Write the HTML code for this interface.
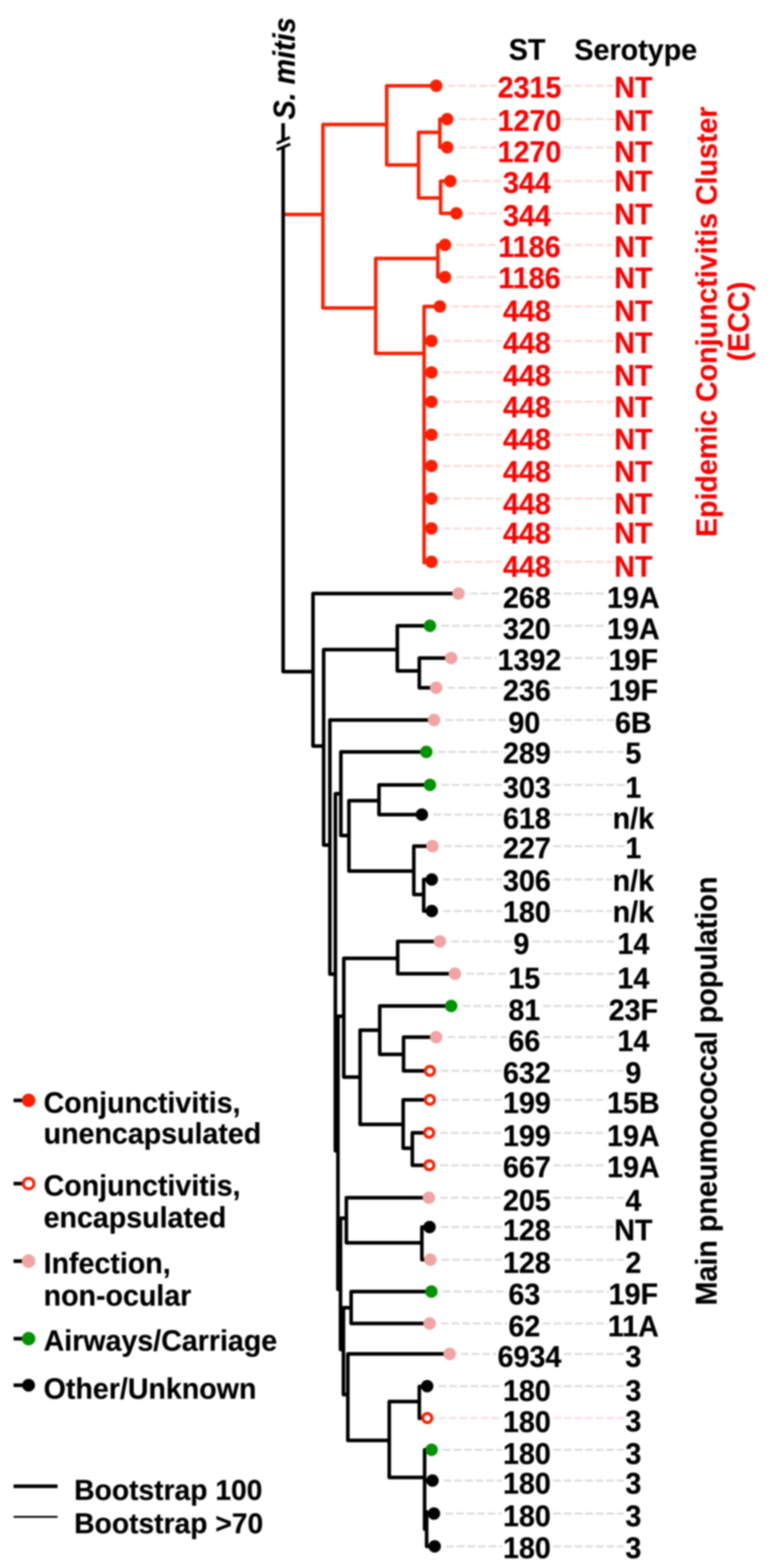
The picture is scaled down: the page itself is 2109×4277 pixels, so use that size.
<!DOCTYPE html>
<html lang="en"><head><meta charset="utf-8"><title>Phylogenetic tree</title>
<style>
html,body{margin:0;padding:0;background:#fff;}
body{width:2109px;height:4277px;overflow:hidden;}
svg{display:block;filter:blur(2px);}
text{font-family:"Liberation Sans",Arial,Helvetica,sans-serif;font-weight:bold;font-size:78.3px;stroke-width:0.5px;stroke-linejoin:round;paint-order:stroke fill;}
.c{text-anchor:middle;}
.r{fill:#ff0000;stroke:#ff0000;}
.k{fill:#000;stroke:#000;}
.l,.s{font-size:78px;}
</style></head><body>
<svg width="2109" height="4277" viewBox="0 0 2109 4277" role="img" aria-label="Phylogenetic tree of pneumococcal isolates with ST and serotype">
<rect width="2109" height="4277" fill="#fff"/>
<g fill="none" stroke-width="5.5" stroke-dasharray="21 8">
<path stroke="#ffd6d6" d="M1221 234H1354.5"/>
<path stroke="#ffd6d6" d="M1538.5 234H1674"/>
<path stroke="#ffd6d6" d="M1251 325H1354.5"/>
<path stroke="#ffd6d6" d="M1538.5 325H1674"/>
<path stroke="#ffd6d6" d="M1251 402H1354.5"/>
<path stroke="#ffd6d6" d="M1538.5 402H1674"/>
<path stroke="#ffd6d6" d="M1259.5 494H1369.5"/>
<path stroke="#ffd6d6" d="M1509.5 494H1674"/>
<path stroke="#ffd6d6" d="M1276 582H1369.5"/>
<path stroke="#ffd6d6" d="M1509.5 582H1674"/>
<path stroke="#ffd6d6" d="M1245 668H1354.5"/>
<path stroke="#ffd6d6" d="M1538.5 668H1674"/>
<path stroke="#ffd6d6" d="M1245 756H1354.5"/>
<path stroke="#ffd6d6" d="M1538.5 756H1674"/>
<path stroke="#ffd6d6" d="M1231 836H1369.5"/>
<path stroke="#ffd6d6" d="M1509.5 836H1674"/>
<path stroke="#ffd6d6" d="M1208 930H1369.5"/>
<path stroke="#ffd6d6" d="M1509.5 930H1674"/>
<path stroke="#ffd6d6" d="M1208 1016H1369.5"/>
<path stroke="#ffd6d6" d="M1509.5 1016H1674"/>
<path stroke="#ffd6d6" d="M1208 1096H1369.5"/>
<path stroke="#ffd6d6" d="M1509.5 1096H1674"/>
<path stroke="#ffd6d6" d="M1208 1186H1369.5"/>
<path stroke="#ffd6d6" d="M1509.5 1186H1674"/>
<path stroke="#ffd6d6" d="M1208 1271H1369.5"/>
<path stroke="#ffd6d6" d="M1509.5 1271H1674"/>
<path stroke="#ffd6d6" d="M1208 1360H1369.5"/>
<path stroke="#ffd6d6" d="M1509.5 1360H1674"/>
<path stroke="#ffd6d6" d="M1208 1441.5H1369.5"/>
<path stroke="#ffd6d6" d="M1509.5 1441.5H1674"/>
<path stroke="#ffd6d6" d="M1208 1532.5H1369.5"/>
<path stroke="#ffd6d6" d="M1509.5 1532.5H1674"/>
<path stroke="#dcdcdc" d="M1282 1619H1369.5"/>
<path stroke="#dcdcdc" d="M1509.5 1619H1656"/>
<path stroke="#dcdcdc" d="M1204 1707H1369.5"/>
<path stroke="#dcdcdc" d="M1509.5 1707H1656"/>
<path stroke="#dcdcdc" d="M1262 1795H1354.5"/>
<path stroke="#dcdcdc" d="M1538.5 1795H1660"/>
<path stroke="#dcdcdc" d="M1221 1876H1369.5"/>
<path stroke="#dcdcdc" d="M1509.5 1876H1660"/>
<path stroke="#dcdcdc" d="M1215 1964H1383.5"/>
<path stroke="#dcdcdc" d="M1481.5 1964H1676"/>
<path stroke="#dcdcdc" d="M1194 2051H1369.5"/>
<path stroke="#dcdcdc" d="M1509.5 2051H1702"/>
<path stroke="#dcdcdc" d="M1204 2141H1369.5"/>
<path stroke="#dcdcdc" d="M1509.5 2141H1708"/>
<path stroke="#dcdcdc" d="M1182 2222H1369.5"/>
<path stroke="#dcdcdc" d="M1509.5 2222H1670"/>
<path stroke="#dcdcdc" d="M1211 2308H1369.5"/>
<path stroke="#dcdcdc" d="M1509.5 2308H1708"/>
<path stroke="#dcdcdc" d="M1209 2399H1369.5"/>
<path stroke="#dcdcdc" d="M1509.5 2399H1670"/>
<path stroke="#dcdcdc" d="M1209 2485H1369.5"/>
<path stroke="#dcdcdc" d="M1509.5 2485H1670"/>
<path stroke="#dcdcdc" d="M1231 2568H1396.5"/>
<path stroke="#dcdcdc" d="M1452.5 2568H1683"/>
<path stroke="#dcdcdc" d="M1272 2656H1383.5"/>
<path stroke="#dcdcdc" d="M1481.5 2656H1683"/>
<path stroke="#dcdcdc" d="M1262 2744H1383.5"/>
<path stroke="#dcdcdc" d="M1481.5 2744H1659"/>
<path stroke="#dcdcdc" d="M1221 2829H1383.5"/>
<path stroke="#dcdcdc" d="M1481.5 2829H1683"/>
<path stroke="#dcdcdc" d="M1203 2921H1369.5"/>
<path stroke="#dcdcdc" d="M1509.5 2921H1702"/>
<path stroke="#dcdcdc" d="M1203 3000H1369.5"/>
<path stroke="#dcdcdc" d="M1509.5 3000H1656"/>
<path stroke="#dcdcdc" d="M1201 3090H1369.5"/>
<path stroke="#dcdcdc" d="M1509.5 3090H1656"/>
<path stroke="#dcdcdc" d="M1201.5 3178.5H1369.5"/>
<path stroke="#dcdcdc" d="M1509.5 3178.5H1656"/>
<path stroke="#dcdcdc" d="M1201 3267H1369.5"/>
<path stroke="#dcdcdc" d="M1509.5 3267H1702"/>
<path stroke="#dcdcdc" d="M1203 3347H1369.5"/>
<path stroke="#dcdcdc" d="M1509.5 3347H1674"/>
<path stroke="#dcdcdc" d="M1205 3436H1369.5"/>
<path stroke="#dcdcdc" d="M1509.5 3436H1702"/>
<path stroke="#dcdcdc" d="M1208 3523H1383.5"/>
<path stroke="#dcdcdc" d="M1481.5 3523H1660"/>
<path stroke="#dcdcdc" d="M1203 3610H1383.5"/>
<path stroke="#dcdcdc" d="M1481.5 3610H1658"/>
<path stroke="#dcdcdc" d="M1258 3693H1354.5"/>
<path stroke="#dcdcdc" d="M1538.5 3693H1702"/>
<path stroke="#dcdcdc" d="M1196.5 3781H1369.5"/>
<path stroke="#dcdcdc" d="M1509.5 3781H1702"/>
<path stroke="#fbdcee" d="M1196 3868H1369.5"/>
<path stroke="#fbdcee" d="M1509.5 3868H1702"/>
<path stroke="#dcdcdc" d="M1208.5 3954.5H1369.5"/>
<path stroke="#dcdcdc" d="M1509.5 3954.5H1702"/>
<path stroke="#dcdcdc" d="M1211 4038.5H1369.5"/>
<path stroke="#dcdcdc" d="M1509.5 4038.5H1702"/>
<path stroke="#dcdcdc" d="M1215 4128.5H1369.5"/>
<path stroke="#dcdcdc" d="M1509.5 4128.5H1702"/>
<path stroke="#dcdcdc" d="M1217 4218H1369.5"/>
<path stroke="#dcdcdc" d="M1509.5 4218H1702"/>
</g>
<path fill="none" stroke="#000000" stroke-width="9.8" stroke-linecap="round" stroke-linejoin="round" d="M772.5 1832L854 1832M854 1619L854 2035M854 1619L1251 1619M854 2035L883 2035M883 1772L883 2305M883 1772L1084 1772M1084 1707L1084 1830M1084 1707L1173 1707M1084 1830L1144 1830M1144 1795L1144 1876M1144 1795L1231 1795M1144 1876L1190 1876M883 2305L900 2305M900 1964L900 2657M900 1964L1184 1964M900 2657L915 2657M915 2165L915 3139M915 2165L930 2165M930 2051L930 2279M930 2051L1163 2051M930 2279L952 2279M952 2184L952 2376M952 2184L1034 2184M1034 2141L1034 2222M1034 2141L1173 2141M1034 2222L1151 2222M952 2376L1129 2376M1129 2308L1129 2440M1129 2308L1180 2308M1129 2440L1156 2440M1156 2399L1156 2485M1156 2399L1178 2399M1156 2485L1178 2485M915 3139L922 3139M922 2772L922 3517M922 2772L938 2772M938 2614L938 2938M938 2614L1085 2614M1085 2568L1085 2656M1085 2568L1200 2568M1085 2656L1241 2656M938 2938L982.5 2938M982.5 2810L982.5 3067M982.5 2810L1036 2810M1036 2744L1036 2876M1036 2744L1231 2744M1036 2876L1101 2876M1101 2829L1101 2921M1101 2829L1190 2829M1101 2921L1172 2921M982.5 3067L1100 3067M1100 3000L1100 3132M1100 3000L1172 3000M1100 3132L1125 3132M1125 3090L1125 3178.5M1125 3090L1170 3090M1125 3178.5L1170.5 3178.5M922 3517L929 3517M929 3323L929 3681M929 3323L945 3323M945 3267L945 3390M945 3267L1170 3267M945 3390L1151 3390M1151 3347L1151 3436M1151 3347L1172 3347M1151 3436L1174 3436M929 3681L937 3681M937 3567L937 3804M937 3567L958 3567M958 3523L958 3610M958 3523L1177 3523M958 3610L1172 3610M937 3804L949 3804M949 3693L949 3929M949 3693L1227 3693M949 3929L1062 3929M1062 3823L1062 4030M1062 3823L1144 3823M1144 3782L1144 3869M1144 3782L1165.5 3782M1144 3868L1165 3868M1062 4030L1158.5 4030M1158.5 3956L1158.5 4171M1158.5 3954.5L1177.5 3954.5M1158.5 4038.5L1179 4038.5M1164 4124L1164 4218M1164 4128.5L1183 4128.5M1164 4218L1185 4218"/>
<path fill="none" stroke="#ff1e00" stroke-width="9.6" stroke-linecap="round" stroke-linejoin="round" d="M777 585L881 585M881 339.5L881 840M881 339.5L1055 339.5M1055 234L1055 450M1055 234L1190 234M1055 450L1142 450M1142 361L1142 540M1142 361L1200 361M1200 325L1200 402M1200 325L1220 325M1200 402L1220 402M1142 540L1202 540M1202 494L1202 582M1202 494L1228.5 494M1202 582L1245 582M881 840L1025 840M1025 705L1025 964M1025 705L1194.5 705M1194.5 668L1194.5 756M1194.5 668L1214 668M1194.5 756L1214 756M1025 964L1157 964M1157 836L1157 1535M1157 836L1200 836M1157 930L1177 930M1157 1016L1177 1016M1157 1096L1177 1096M1157 1186L1177 1186M1157 1271L1177 1271M1157 1360L1177 1360M1157 1441.5L1177 1441.5M1157 1532.5L1177 1532.5"/>
<path fill="none" stroke="#000" stroke-width="9.8" d="M772.5 336V384M772.5 399V1832"/>
<path fill="none" stroke="#000" stroke-width="7.5" d="M755 391L791 374.5M755 408.5L792 393"/>
<circle cx="1190" cy="234" r="17" fill="#ff1e00"/>
<circle cx="1220" cy="325" r="17" fill="#ff1e00"/>
<circle cx="1220" cy="402" r="17" fill="#ff1e00"/>
<circle cx="1228.5" cy="494" r="17" fill="#ff1e00"/>
<circle cx="1245" cy="582" r="17" fill="#ff1e00"/>
<circle cx="1214" cy="668" r="17" fill="#ff1e00"/>
<circle cx="1214" cy="756" r="17" fill="#ff1e00"/>
<circle cx="1200" cy="836" r="17" fill="#ff1e00"/>
<circle cx="1177" cy="930" r="17" fill="#ff1e00"/>
<circle cx="1177" cy="1016" r="17" fill="#ff1e00"/>
<circle cx="1177" cy="1096" r="17" fill="#ff1e00"/>
<circle cx="1177" cy="1186" r="17" fill="#ff1e00"/>
<circle cx="1177" cy="1271" r="17" fill="#ff1e00"/>
<circle cx="1177" cy="1360" r="17" fill="#ff1e00"/>
<circle cx="1177" cy="1441.5" r="17" fill="#ff1e00"/>
<circle cx="1177" cy="1532.5" r="17" fill="#ff1e00"/>
<circle cx="1251" cy="1619" r="17" fill="#f2a3a3"/>
<circle cx="1173" cy="1707" r="17" fill="#009200"/>
<circle cx="1231" cy="1795" r="17" fill="#f2a3a3"/>
<circle cx="1190" cy="1876" r="17" fill="#f2a3a3"/>
<circle cx="1184" cy="1964" r="17" fill="#f2a3a3"/>
<circle cx="1163" cy="2051" r="17" fill="#009200"/>
<circle cx="1173" cy="2141" r="17" fill="#009200"/>
<circle cx="1151" cy="2222" r="17" fill="#000"/>
<circle cx="1180" cy="2308" r="17" fill="#f2a3a3"/>
<circle cx="1178" cy="2399" r="17" fill="#000"/>
<circle cx="1178" cy="2485" r="17" fill="#000"/>
<circle cx="1200" cy="2568" r="17" fill="#f2a3a3"/>
<circle cx="1241" cy="2656" r="17" fill="#f2a3a3"/>
<circle cx="1231" cy="2744" r="17" fill="#009200"/>
<circle cx="1190" cy="2829" r="17" fill="#f2a3a3"/>
<circle cx="1172.8" cy="2921" r="12.3" fill="#fff" stroke="#ff1e00" stroke-width="8.3"/>
<circle cx="1172.8" cy="3000" r="12.3" fill="#fff" stroke="#ff1e00" stroke-width="8.3"/>
<circle cx="1170.8" cy="3090" r="12.3" fill="#fff" stroke="#ff1e00" stroke-width="8.3"/>
<circle cx="1171.3" cy="3178.5" r="12.3" fill="#fff" stroke="#ff1e00" stroke-width="8.3"/>
<circle cx="1170" cy="3267" r="17" fill="#f2a3a3"/>
<circle cx="1172" cy="3347" r="17" fill="#000"/>
<circle cx="1174" cy="3436" r="17" fill="#f2a3a3"/>
<circle cx="1177" cy="3523" r="17" fill="#009200"/>
<circle cx="1172" cy="3610" r="17" fill="#f2a3a3"/>
<circle cx="1227" cy="3693" r="17" fill="#f2a3a3"/>
<circle cx="1165.5" cy="3781" r="17" fill="#000"/>
<circle cx="1165.8" cy="3868" r="12.3" fill="#fff" stroke="#ff1e00" stroke-width="8.3"/>
<circle cx="1177.5" cy="3954.5" r="17" fill="#009200"/>
<circle cx="1180" cy="4038.5" r="17" fill="#000"/>
<circle cx="1184" cy="4128.5" r="17" fill="#000"/>
<circle cx="1186" cy="4218" r="17" fill="#000"/>
<text class="k" text-anchor="middle" transform="translate(1438 163) scale(1 1.03)">ST</text>
<text class="k" text-anchor="middle" transform="translate(1734.5 163) scale(1 1.02)">Serotype</text>
<text class="r" text-anchor="middle" transform="translate(1444.5 265.5) scale(1 1.03)">2315</text>
<text class="r" text-anchor="middle" transform="translate(1728 265.5) scale(1 1.03)">NT</text>
<text class="r" text-anchor="middle" transform="translate(1444.5 357) scale(1 1.03)">1270</text>
<text class="r" text-anchor="middle" transform="translate(1728 357) scale(1 1.03)">NT</text>
<text class="r" text-anchor="middle" transform="translate(1444.5 441.5) scale(1 1.03)">1270</text>
<text class="r" text-anchor="middle" transform="translate(1728 441.5) scale(1 1.03)">NT</text>
<text class="r" text-anchor="middle" transform="translate(1437.5 526) scale(1 1.03)">344</text>
<text class="r" text-anchor="middle" transform="translate(1728 522) scale(1 1.03)">NT</text>
<text class="r" text-anchor="middle" transform="translate(1437.5 615.5) scale(1 1.03)">344</text>
<text class="r" text-anchor="middle" transform="translate(1728 611.5) scale(1 1.03)">NT</text>
<text class="r" text-anchor="middle" transform="translate(1444.5 700.5) scale(1 1.03)">1186</text>
<text class="r" text-anchor="middle" transform="translate(1728 700.5) scale(1 1.03)">NT</text>
<text class="r" text-anchor="middle" transform="translate(1444.5 785.5) scale(1 1.03)">1186</text>
<text class="r" text-anchor="middle" transform="translate(1728 785.5) scale(1 1.03)">NT</text>
<text class="r" text-anchor="middle" transform="translate(1437.5 876) scale(1 1.03)">448</text>
<text class="r" text-anchor="middle" transform="translate(1728 876) scale(1 1.03)">NT</text>
<text class="r" text-anchor="middle" transform="translate(1437.5 963) scale(1 1.03)">448</text>
<text class="r" text-anchor="middle" transform="translate(1728 963) scale(1 1.03)">NT</text>
<text class="r" text-anchor="middle" transform="translate(1437.5 1052) scale(1 1.03)">448</text>
<text class="r" text-anchor="middle" transform="translate(1728 1052) scale(1 1.03)">NT</text>
<text class="r" text-anchor="middle" transform="translate(1437.5 1137.5) scale(1 1.03)">448</text>
<text class="r" text-anchor="middle" transform="translate(1728 1137.5) scale(1 1.03)">NT</text>
<text class="r" text-anchor="middle" transform="translate(1437.5 1225.5) scale(1 1.03)">448</text>
<text class="r" text-anchor="middle" transform="translate(1728 1225.5) scale(1 1.03)">NT</text>
<text class="r" text-anchor="middle" transform="translate(1437.5 1313.5) scale(1 1.03)">448</text>
<text class="r" text-anchor="middle" transform="translate(1728 1313.5) scale(1 1.03)">NT</text>
<text class="r" text-anchor="middle" transform="translate(1437.5 1402) scale(1 1.03)">448</text>
<text class="r" text-anchor="middle" transform="translate(1728 1402) scale(1 1.03)">NT</text>
<text class="r" text-anchor="middle" transform="translate(1437.5 1482) scale(1 1.03)">448</text>
<text class="r" text-anchor="middle" transform="translate(1728 1482) scale(1 1.03)">NT</text>
<text class="r" text-anchor="middle" transform="translate(1437.5 1572.5) scale(1 1.03)">448</text>
<text class="r" text-anchor="middle" transform="translate(1728 1572.5) scale(1 1.03)">NT</text>
<text class="k" text-anchor="middle" transform="translate(1437.5 1657.5) scale(1 1.03)">268</text>
<text class="k" text-anchor="middle" transform="translate(1728 1657.5) scale(1 1.03)">19A</text>
<text class="k" text-anchor="middle" transform="translate(1437.5 1742.5) scale(1 1.03)">320</text>
<text class="k" text-anchor="middle" transform="translate(1728 1742.5) scale(1 1.03)">19A</text>
<text class="k" text-anchor="middle" transform="translate(1444.5 1827.5) scale(1 1.03)">1392</text>
<text class="k" text-anchor="middle" transform="translate(1728 1827.5) scale(1 1.03)">19F</text>
<text class="k" text-anchor="middle" transform="translate(1437.5 1911) scale(1 1.03)">236</text>
<text class="k" text-anchor="middle" transform="translate(1728 1911) scale(1 1.03)">19F</text>
<text class="k" text-anchor="middle" transform="translate(1430.5 1998.5) scale(1 1.03)">90</text>
<text class="k" text-anchor="middle" transform="translate(1728 1998.5) scale(1 1.03)">6B</text>
<text class="k" text-anchor="middle" transform="translate(1437.5 2082) scale(1 1.03)">289</text>
<text class="k" text-anchor="middle" transform="translate(1728 2082) scale(1 1.03)">5</text>
<text class="k" text-anchor="middle" transform="translate(1437.5 2176) scale(1 1.03)">303</text>
<text class="k" text-anchor="middle" transform="translate(1728 2176) scale(1 1.03)">1</text>
<text class="k" text-anchor="middle" transform="translate(1437.5 2259.5) scale(1 1.03)">618</text>
<text class="k" text-anchor="middle" transform="translate(1728 2259.5) scale(1 1.03)">n/k</text>
<text class="k" text-anchor="middle" transform="translate(1437.5 2341) scale(1 1.03)">227</text>
<text class="k" text-anchor="middle" transform="translate(1728 2341) scale(1 1.03)">1</text>
<text class="k" text-anchor="middle" transform="translate(1437.5 2429.5) scale(1 1.03)">306</text>
<text class="k" text-anchor="middle" transform="translate(1728 2429.5) scale(1 1.03)">n/k</text>
<text class="k" text-anchor="middle" transform="translate(1437.5 2515) scale(1 1.03)">180</text>
<text class="k" text-anchor="middle" transform="translate(1728 2515) scale(1 1.03)">n/k</text>
<text class="k" text-anchor="middle" transform="translate(1422.5 2601.5) scale(1 1.03)">9</text>
<text class="k" text-anchor="middle" transform="translate(1728 2601.5) scale(1 1.03)">14</text>
<text class="k" text-anchor="middle" transform="translate(1430.5 2696) scale(1 1.03)">15</text>
<text class="k" text-anchor="middle" transform="translate(1728 2696) scale(1 1.03)">14</text>
<text class="k" text-anchor="middle" transform="translate(1430.5 2783) scale(1 1.03)">81</text>
<text class="k" text-anchor="middle" transform="translate(1728 2783) scale(1 1.03)">23F</text>
<text class="k" text-anchor="middle" transform="translate(1430.5 2867) scale(1 1.03)">66</text>
<text class="k" text-anchor="middle" transform="translate(1728 2867) scale(1 1.03)">14</text>
<text class="k" text-anchor="middle" transform="translate(1437.5 2954) scale(1 1.03)">632</text>
<text class="k" text-anchor="middle" transform="translate(1728 2954) scale(1 1.03)">9</text>
<text class="k" text-anchor="middle" transform="translate(1437.5 3035.5) scale(1 1.03)">199</text>
<text class="k" text-anchor="middle" transform="translate(1728 3035.5) scale(1 1.03)">15B</text>
<text class="k" text-anchor="middle" transform="translate(1437.5 3126) scale(1 1.03)">199</text>
<text class="k" text-anchor="middle" transform="translate(1728 3126) scale(1 1.03)">19A</text>
<text class="k" text-anchor="middle" transform="translate(1437.5 3211) scale(1 1.03)">667</text>
<text class="k" text-anchor="middle" transform="translate(1728 3211) scale(1 1.03)">19A</text>
<text class="k" text-anchor="middle" transform="translate(1437.5 3301.5) scale(1 1.03)">205</text>
<text class="k" text-anchor="middle" transform="translate(1728 3301.5) scale(1 1.03)">4</text>
<text class="k" text-anchor="middle" transform="translate(1437.5 3383) scale(1 1.03)">128</text>
<text class="k" text-anchor="middle" transform="translate(1728 3383) scale(1 1.03)">NT</text>
<text class="k" text-anchor="middle" transform="translate(1437.5 3472) scale(1 1.03)">128</text>
<text class="k" text-anchor="middle" transform="translate(1728 3472) scale(1 1.03)">2</text>
<text class="k" text-anchor="middle" transform="translate(1430.5 3558) scale(1 1.03)">63</text>
<text class="k" text-anchor="middle" transform="translate(1728 3558) scale(1 1.03)">19F</text>
<text class="k" text-anchor="middle" transform="translate(1430.5 3644.5) scale(1 1.03)">62</text>
<text class="k" text-anchor="middle" transform="translate(1728 3644.5) scale(1 1.03)">11A</text>
<text class="k" text-anchor="middle" transform="translate(1444.5 3728) scale(1 1.03)">6934</text>
<text class="k" text-anchor="middle" transform="translate(1728 3728) scale(1 1.03)">3</text>
<text class="k" text-anchor="middle" transform="translate(1437.5 3820.5) scale(1 1.03)">180</text>
<text class="k" text-anchor="middle" transform="translate(1728 3820.5) scale(1 1.03)">3</text>
<text class="k" text-anchor="middle" transform="translate(1437.5 3905.5) scale(1 1.03)">180</text>
<text class="k" text-anchor="middle" transform="translate(1728 3903.5) scale(1 1.03)">3</text>
<text class="k" text-anchor="middle" transform="translate(1437.5 3992.5) scale(1 1.03)">180</text>
<text class="k" text-anchor="middle" transform="translate(1728 3992.5) scale(1 1.03)">3</text>
<text class="k" text-anchor="middle" transform="translate(1437.5 4074) scale(1 1.03)">180</text>
<text class="k" text-anchor="middle" transform="translate(1728 4074) scale(1 1.03)">3</text>
<text class="k" text-anchor="middle" transform="translate(1437.5 4162.5) scale(1 1.03)">180</text>
<text class="k" text-anchor="middle" transform="translate(1728 4162.5) scale(1 1.03)">3</text>
<text class="k" text-anchor="middle" transform="translate(1437.5 4249.5) scale(1 1.03)">180</text>
<text class="k" text-anchor="middle" transform="translate(1728 4249.5) scale(1 1.03)">3</text>
<clipPath id="cp"><rect x="0" y="0" width="2060" height="4277"/></clipPath>
<text class="r s" transform="translate(1955 1465) rotate(-90) scale(1 1.03)">Epidemic Conjunctivitis Cluster</text>
<g clip-path="url(#cp)"><text class="r" text-anchor="middle" transform="translate(2042.5 877) rotate(-90) scale(1 1.03)">(ECC)</text></g>
<text class="k" transform="translate(1954.5 3561) rotate(-90) scale(1 1.03)">Main pneumococcal population</text>
<text class="k" font-style="italic" transform="translate(803.5 326) rotate(-90) scale(1 1.06)">S. mitis</text>
<path fill="none" stroke="#000" stroke-width="10" d="M37 3001.5H64"/>
<circle cx="78" cy="3001.5" r="18.5" fill="#ff1e00"/>
<text class="k l" transform="translate(119 3034.5) scale(1 1.02)">Conjunctivitis,</text>
<text class="k l" transform="translate(119 3119) scale(1 1.02)">unencapsulated</text>
<path fill="none" stroke="#000" stroke-width="10" d="M37 3228.5H64"/>
<circle cx="78" cy="3228.5" r="14.5" fill="#fff" stroke="#ff1e00" stroke-width="8"/>
<text class="k l" transform="translate(119 3261) scale(1 1.02)">Conjunctivitis,</text>
<text class="k l" transform="translate(119 3348) scale(1 1.02)">encapsulated</text>
<path fill="none" stroke="#000" stroke-width="10" d="M37 3440H64"/>
<circle cx="78" cy="3440" r="18.5" fill="#f2a3a3"/>
<text class="k l" transform="translate(119 3472.5) scale(1 1.02)">Infection,</text>
<text class="k l" transform="translate(119 3561) scale(1 1.02)">non-ocular</text>
<path fill="none" stroke="#000" stroke-width="10" d="M37 3651.5H64"/>
<circle cx="78" cy="3651.5" r="18.5" fill="#009200"/>
<text class="k l" transform="translate(119 3683.5) scale(1 1.02)">Airways/Carriage</text>
<path fill="none" stroke="#000" stroke-width="10" d="M37 3778.5H64"/>
<circle cx="78" cy="3778.5" r="17.5" fill="#000"/>
<text class="k l" transform="translate(119 3814.5) scale(1 1.02)">Other/Unknown</text>
<path fill="none" stroke="#000" stroke-width="10" d="M37 4054H157"/>
<path fill="none" stroke="#000" stroke-width="5.2" d="M37 4137.5H157"/>
<text class="k l" style="font-size:77px" transform="translate(202.5 4091) scale(1 1.02)">Bootstrap 100</text>
<text class="k l" style="font-size:77px" transform="translate(202.5 4181.5) scale(1 1.02)">Bootstrap &gt;70</text>
</svg></body></html>
